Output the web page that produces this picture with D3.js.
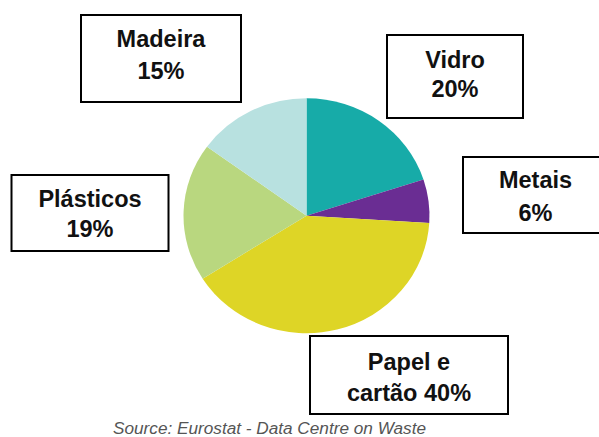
<!DOCTYPE html>
<html>
<head>
<meta charset="utf-8">
<script src="https://cdn.jsdelivr.net/npm/d3@7"></script>
<style>
  html, body { margin: 0; padding: 0; background: #ffffff; }
  svg { display: block; }
</style>
</head>
<body>
<svg id="chart" width="599" height="437"></svg>
<script>
// Composição dos resíduos de embalagens (%), no sentido horário a partir das 12h
const categories = ["Vidro", "Metais", "Papel e cartão", "Plásticos", "Madeira"];
const values = [20, 6, 40, 19, 15];
const colors = ["#17aba8", "#6a2d93", "#ded526", "#b9d77f", "#b8e1e0"];

// Caixas de legenda: linhas de texto de cada categoria
const labelLines = [
  ["Vidro", "20%"],
  ["Metais", "6%"],
  ["Papel e", "cartão 40%"],
  ["Plásticos", "19%"],
  ["Madeira", "15%"]
];
const sourceText = "Source: Eurostat - Data Centre on Waste";

const svg = d3.select("#chart");

// Pizza ligeiramente achatada na vertical
const cx = 306.5, cy = 215.7, rx = 123, ry = 117.5;
const pie = d3.pie().sort(null).value(d => d);
const arc = d3.arc().innerRadius(0).outerRadius(rx);

const pieG = svg.append("g")
  .attr("transform", `translate(${cx},${cy}) scale(1,${ry / rx})`);

pieG.selectAll("path")
  .data(pie(values))
  .join("path")
  .attr("d", arc)
  .attr("fill", (d, i) => colors[i]);

// Posições das caixas (x, y, largura, altura) e linhas de base do texto
const boxes = [
  { x: 387, y: 35, w: 136, h: 83, base: [68, 97] },
  { x: 463, y: 157, w: 150, h: 76, base: [188, 221] },
  { x: 310, y: 336, w: 198, h: 78, base: [369.5, 400.5] },
  { x: 11.5, y: 175, w: 157, h: 76, base: [207, 236.5] },
  { x: 81, y: 15, w: 160, h: 87, base: [47, 78.5] }
];

const labelG = svg.append("g");
boxes.forEach((b, i) => {
  labelG.append("rect")
    .attr("x", b.x).attr("y", b.y)
    .attr("width", b.w).attr("height", b.h)
    .attr("fill", "#ffffff")
    .attr("stroke", "#000000")
    .attr("stroke-width", 2);
  const tx = i === 1 ? 535.5 : b.x + b.w / 2;
  labelLines[i].forEach((line, j) => {
    labelG.append("text")
      .attr("x", tx)
      .attr("y", b.base[j])
      .attr("text-anchor", "middle")
      .attr("font-family", "'Liberation Sans', Arial, Helvetica, sans-serif")
      .attr("font-weight", "bold")
      .attr("font-size", 23.5)
      .attr("fill", "#111111")
      .text(line);
  });
});

svg.append("text")
  .attr("x", 113)
  .attr("y", 434)
  .attr("font-family", "'Liberation Sans', Arial, Helvetica, sans-serif")
  .attr("font-style", "italic")
  .attr("font-size", 17.2)
  .attr("fill", "#555555")
  .text(sourceText);
</script>
</body>
</html>
